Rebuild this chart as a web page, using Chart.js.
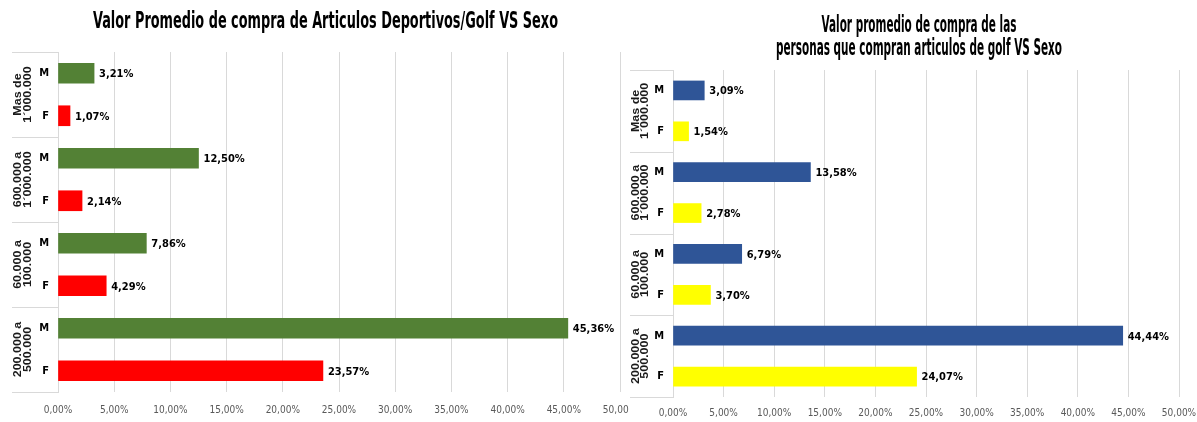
<!DOCTYPE html>
<html><head><meta charset="utf-8">
<script src="https://cdn.jsdelivr.net/npm/chart.js@4.4.1/dist/chart.umd.min.js"></script>
<style>
html,body{margin:0;padding:0;background:#fff;width:1197px;height:422px;overflow:hidden}
.wrap{position:absolute;top:0;overflow:hidden;height:422px}
canvas{display:block}
</style></head><body>
<div class="wrap" style="left:0;width:629px"><canvas id="c1" width="680" height="422"></canvas></div>
<div class="wrap" style="left:624px;width:573px"><canvas id="c2" width="620" height="422"></canvas></div>
<script>
const sexLabels = ['M','F','M','F','M','F','M','F'];
const groupLabels = [['Mas de','1´000.000'],['600.000 a','1´000.000'],['60.000 a','100.000'],['200.000 a','500.000']];
const leftValues = [3.21,1.07,12.50,2.14,7.86,4.29,45.36,23.57];
const rightValues = [3.09,1.54,13.58,2.78,6.79,3.70,44.44,24.07];
const leftTitle = ['Valor Promedio de compra de Articulos Deportivos/Golf VS Sexo'];
const rightTitle = ['Valor promedio de compra de las','personas que compran articulos de golf VS Sexo'];
const xMin = 0, xMax = 50, xStep = 5;

const NARROW = '"Liberation Sans Narrow", "Arial Narrow", "DejaVu Sans Condensed", sans-serif';
const fmt = v => v.toFixed(2).replace('.', ',') + '%';

function makeChart(id, values, titleLines, cfg) {
  const decor = {
    id: 'decor',
    afterDraw(chart) {
      const ctx = chart.ctx, ys = chart.scales.y, ca = chart.chartArea;
      const n = sexLabels.length, h = (ys.bottom - ys.top) / n;
      ctx.save();
      ctx.strokeStyle = '#D9D9D9'; ctx.lineWidth = 1;
      for (let g = 0; g <= groupLabels.length; g++) {
        const y = Math.round(ys.top + g * 2 * h) + 0.5;
        ctx.beginPath(); ctx.moveTo(cfg.sepLeft, y); ctx.lineTo(ca.left, y); ctx.stroke();
      }
      ctx.fillStyle = '#1a1a1a';
      ctx.font = 'bold 12.5px "Liberation Sans", Arial, sans-serif';
      ctx.textAlign = 'center'; ctx.textBaseline = 'middle';
      groupLabels.forEach((lines, g) => {
        const yc = ys.top + (2 * g + 1) * h;
        ctx.save(); ctx.translate(cfg.groupX, yc); ctx.rotate(-Math.PI / 2); ctx.scale(1, 0.85);
        lines.forEach((t, i) => ctx.fillText(t, 0, (i - (lines.length - 1) / 2) * cfg.groupLine));
        ctx.restore();
      });
      // title
      ctx.font = 'bold ' + cfg.titleSize + 'px ' + NARROW;
      ctx.fillStyle = '#000';
      ctx.textBaseline = 'alphabetic';
      let maxW = 0; titleLines.forEach(t => maxW = Math.max(maxW, ctx.measureText(t).width));
      const sx = cfg.titleWidth / maxW;
      titleLines.forEach((t, i) => {
        ctx.save(); ctx.translate(cfg.titleX, cfg.titleBase[i]); ctx.scale(sx, 1);
        ctx.fillText(t, 0, 0); ctx.restore();
      });
      ctx.restore();
    },
    afterDatasetsDraw(chart) {
      const ctx = chart.ctx, meta = chart.getDatasetMeta(0);
      ctx.save();
      ctx.font = 'bold 11px ' + NARROW;
      ctx.fillStyle = '#000'; ctx.textAlign = 'left'; ctx.textBaseline = 'middle';
      meta.data.forEach((bar, i) => ctx.fillText(fmt(values[i]), bar.x + 5, bar.y + 1));
      ctx.restore();
    }
  };
  return new Chart(document.getElementById(id), {
    type: 'bar',
    data: {
      labels: sexLabels,
      datasets: [{
        data: values,
        backgroundColor: sexLabels.map(s => s === 'M' ? cfg.colM : cfg.colF),
        barThickness: cfg.barThickness,
        borderWidth: 0
      }]
    },
    options: {
      indexAxis: 'y',
      responsive: false,
      animation: false,
      events: [],
      layout: { padding: { left: 0, right: cfg.padRight, top: cfg.top, bottom: 0 } },
      plugins: { legend: { display: false }, title: { display: false }, tooltip: { enabled: false } },
      scales: {
        x: {
          min: xMin, max: xMax,
          grid: { color: '#D9D9D9', drawTicks: false },
          border: { display: false },
          ticks: { stepSize: xStep, autoSkip: false, maxRotation: 0, padding: cfg.xPad, color: '#595959',
                   font: { family: NARROW, size: 10 }, callback: v => fmt(v) },
          afterFit: s => { s.height = cfg.xHeight; }
        },
        y: {
          grid: { display: false, drawTicks: false },
          border: { display: true, color: '#D9D9D9' },
          ticks: { color: '#000', padding: cfg.yPad, font: { family: NARROW, size: 11, weight: 'bold' } },
          afterFit: s => { s.width = cfg.yWidth; }
        }
      }
    },
    plugins: [decor]
  });
}

makeChart('c1', leftValues, leftTitle, {
  colM: '#538135', colF: '#FF0000', barThickness: 20,
  padRight: 60, top: 52, xHeight: 30, xPad: 12, yWidth: 58, yPad: 9,
  sepLeft: 12, groupX: 23, groupLine: 11.5,
  titleSize: 23, titleX: 325.5, titleBase: [28], titleWidth: 465
});
makeChart('c2', rightValues, rightTitle, {
  colM: '#2F5597', colF: '#FFFF00', barThickness: 19,
  padRight: 65, top: 70, xHeight: 25, xPad: 10, yWidth: 49, yPad: 9,
  sepLeft: 6, groupX: 17, groupLine: 10.5,
  titleSize: 23, titleX: 295, titleBase: [32, 55], titleWidth: 286
});
</script>
</body></html>
